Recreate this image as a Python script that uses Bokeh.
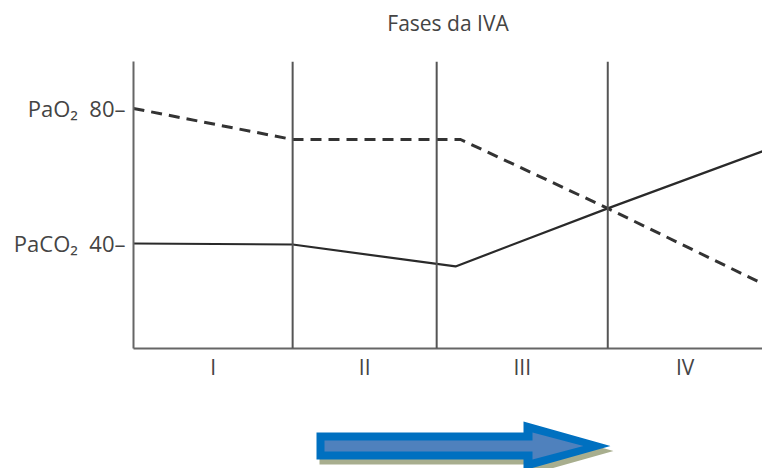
from bokeh.plotting import figure
from bokeh.models import FixedTicker, Span, Range1d
from bokeh.core.properties import value
from bokeh.layouts import column
from bokeh.embed import file_html
from bokeh.resources import INLINE

# ---- data ----
phase_labels = ["I", "II", "III", "IV"]
phase_edges = [0, 25.3, 48.2, 75.4, 100]          # time (arbitrary units)
pao2_x = [0, 25.3, 52.0, 75.4, 100]
pao2_y = [80, 70.8, 70.8, 50.4, 28.1]             # PaO2 (dashed)
paco2_x = [0, 25.3, 51.2, 75.4, 100]
paco2_y = [40, 39.7, 33.2, 50.4, 67.3]            # PaCO2 (solid)
y_ticks = [40, 80]
y_tick_labels = {40: "PaCO₂\u00a0\u00a040\u2013", 80: "PaO₂\u00a0\u00a080\u2013"}
title_text = "Fases da IVA"

FONT = "Open Sans"
TXT = "#444444"

def blank(fig):
    fig.axis.visible = False
    fig.grid.visible = False
    fig.outline_line_color = None
    fig.background_fill_color = "white"
    fig.border_fill_color = "white"

# ---- header with the title (frame spans the same columns as the main frame) ----
HT = 61
hdr = figure(width=762, height=HT, output_backend="svg", toolbar_location=None,
             x_range=Range1d(133, 762), y_range=Range1d(0, HT),
             min_border=0, min_border_left=133, min_border_right=0,
             min_border_top=0, min_border_bottom=0)
blank(hdr)
hdr.text(x=[447.5], y=[HT - 22], text=[title_text], text_align="center",
         text_baseline="middle", text_font=value(FONT), text_font_size="21px",
         text_color=TXT)

# ---- main chart ----
p = figure(width=762, height=390 - HT, output_backend="svg", toolbar_location=None,
           x_range=Range1d(0, 100), y_range=Range1d(8.9, 93.9),
           min_border_left=133, min_border_right=0, min_border_top=0,
           min_border_bottom=42)
p.outline_line_color = None
p.xgrid.visible = False
p.ygrid.visible = False
p.background_fill_color = "white"
p.border_fill_color = "white"

# y axis
ya = p.yaxis[0]
ya.ticker = FixedTicker(ticks=y_ticks)
ya.major_label_overrides = y_tick_labels
ya.major_tick_out = 0
ya.major_tick_in = 0
ya.minor_tick_line_color = None
ya.axis_line_color = "#666666"
ya.axis_line_width = 2
ya.major_label_standoff = 8
ya.major_label_text_font = FONT
ya.major_label_text_font_size = "22px"
ya.major_label_text_color = TXT

# x axis
mids = [(phase_edges[i] + phase_edges[i + 1]) / 2 for i in range(len(phase_labels))]
xa = p.xaxis[0]
xa.ticker = FixedTicker(ticks=mids)
xa.major_label_overrides = {m: lab for m, lab in zip(mids, phase_labels)}
xa.major_tick_out = 0
xa.major_tick_in = 0
xa.minor_tick_line_color = None
xa.axis_line_color = "#666666"
xa.axis_line_width = 2
xa.major_label_standoff = 4
xa.major_label_text_font = FONT
xa.major_label_text_font_size = "21px"
xa.major_label_text_color = TXT

# phase boundaries
for e in phase_edges[1:-1]:
    p.add_layout(Span(location=e, dimension="height", line_color="#555555", line_width=2))

p.line(pao2_x, pao2_y, line_color="#333333", line_width=3, line_dash="11 7")
p.line(paco2_x, paco2_y, line_color="#2a2a2a", line_width=2.2)

# ---- decorative arrow (canvas pixel geometry, figure y = 468 - canvas y) ----
H = 78
def fy(cy):
    return [468 - v for v in cy]

outer_x = [316, 523, 523, 610, 523, 523, 316]
outer_cy = [432, 432, 421, 445.5, 470, 459, 459]
inner_x = [324, 532, 532, 583, 532, 532, 324]
inner_cy = [440, 440, 432, 445.5, 459, 451, 451]
shadow_dx, shadow_dy = 3, 5

a = figure(width=762, height=H, output_backend="svg", toolbar_location=None,
           x_range=Range1d(133, 762), y_range=Range1d(0, H),
           min_border=0, min_border_left=133, min_border_right=0,
           min_border_top=0, min_border_bottom=0)
blank(a)
a.patch([x + shadow_dx for x in outer_x], fy([c + shadow_dy for c in outer_cy]),
        fill_color="#a8ae8e", line_color=None)
a.patch(outer_x, fy(outer_cy), fill_color="#0070c0", line_color=None)
a.patch(inner_x, fy(inner_cy), fill_color="#4f81bd", line_color=None)

layout = column(hdr, p, a, spacing=0)
open("out.html", "w").write(file_html(layout, INLINE))
